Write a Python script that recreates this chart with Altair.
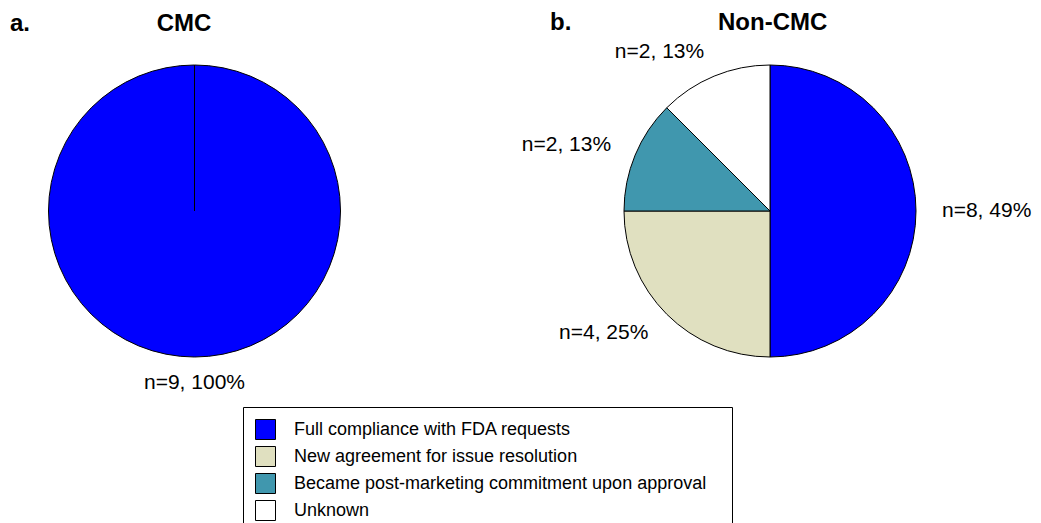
import altair as alt
import pandas as pd

categories = [
    "Full compliance with FDA requests",
    "New agreement for issue resolution",
    "Became post-marketing commitment upon approval",
    "Unknown",
]
order_idx = [0, 1, 2, 3]
cmc_values = [9, 0, 0, 0]
cmc_labels = ["n=9, 100%", "", "", ""]
noncmc_values = [8, 4, 2, 2]
noncmc_labels = ["n=8, 49%", "n=4, 25%", "n=2, 13%", "n=2, 13%"]
colors = ["#0000FF", "#E0E0C0", "#4097AE", "#FFFFFF"]

FONT = "Liberation Sans"
NB = "\u00a0"


def make_df(values, labels):
    return pd.DataFrame(
        {"category": categories, "value": values, "label": labels, "idx": order_idx}
    )


color_scale = alt.Scale(domain=categories, range=colors)
legend = alt.Legend(
    orient="none",
    legendX=235,
    legendY=346,
    title=None,
    direction="vertical",
    symbolType="square",
    symbolSize=400,
    symbolStrokeColor="black",
    symbolStrokeWidth=1,
    symbolOpacity=1,
    labelFont=FONT,
    labelFontSize=18,
    labelColor="black",
    labelOffset=18,
    labelLimit=700,
    labelExpr="datum.label + '\u2800'",
    rowPadding=2,
    padding=12,
    strokeColor="black",
    fillColor="white",
)

# mid-angle fraction of each slice decides on which side the label hangs
ALIGN_EXPR = (
    "((datum.value_start + datum.value_end) / 2 / datum.total) < 0.49 ? 'left' : "
    "(((datum.value_start + datum.value_end) / 2 / datum.total) > 0.51 ? 'right' : 'center')"
)


def pie(df, title_text, dx, title_offset, width):
    base = alt.Chart(df)
    arcs = base.mark_arc(outerRadius=146, stroke="black", strokeWidth=1).encode(
        theta=alt.Theta("value:Q", stack=True),
        color=alt.Color("category:N", scale=color_scale, legend=legend),
        order=alt.Order("idx:Q"),
    )
    text = (
        base.transform_joinaggregate(total="sum(value)")
        .transform_filter("datum.value > 0")
        .mark_text(radius=172, font=FONT, fontSize=21, color="black",
                   align=alt.ExprRef(expr=ALIGN_EXPR), baseline="middle")
        .encode(
            theta=alt.Theta("value:Q", stack=True),
            text="label:N",
            order=alt.Order("idx:Q"),
        )
    )
    return alt.layer(arcs, text).properties(
        width=width,
        height=300,
        title=alt.TitleParams(
            text=title_text,
            anchor="start",
            frame="group",
            dx=dx,
            offset=title_offset,
            baseline="alphabetic",
            font=FONT,
            fontSize=24,
            fontWeight="bold",
            color="black",
        ),
    )


chart_a = pie(make_df(cmc_values, cmc_labels), "a." + NB * 19 + "CMC", 2, 6, 373)
chart_b = pie(make_df(noncmc_values, noncmc_labels), "b." + NB * 22 + "Non-CMC", 0, -13, 440)

chart = (
    alt.hconcat(chart_a, chart_b, spacing=169, bounds="flush")
    .properties(padding={"left": 0, "top": 3, "right": 0, "bottom": 0})
    .configure_view(strokeWidth=0)
)

chart.save("out.html", embed_options={"renderer": "svg", "actions": False})
